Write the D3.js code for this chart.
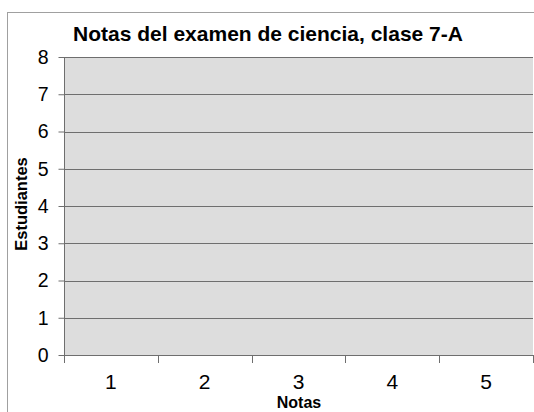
<!DOCTYPE html>
<html><head><meta charset="utf-8">
<script src="https://cdn.jsdelivr.net/npm/d3@7"></script>
<style>body{margin:0;background:#fff}svg{display:block}text{font-family:"Liberation Sans",Arial,sans-serif}</style>
</head><body>
<svg id="c" width="534" height="412"></svg>
<script>
const title = "Notas del examen de ciencia, clase 7-A";
const xTitle = "Notas";
const yTitle = "Estudiantes";
const categories = ["1","2","3","4","5"];
const values = [0,0,0,0,0];
const yTicks = [0,1,2,3,4,5,6,7,8];

const svg = d3.select("#c");
const m = {left:64, top:57, right:533, bottom:355};

svg.append("rect").attr("x",7.5).attr("y",12.5).attr("width",540).attr("height",420)
  .attr("fill","#fff").attr("stroke","#a0a0a0").attr("stroke-width",1);

const x = d3.scaleBand().domain(categories).range([m.left,m.right]);
const y = d3.scaleLinear().domain([0,8]).range([m.bottom,m.top]);

svg.append("rect").attr("x",m.left).attr("y",m.top).attr("width",m.right-m.left).attr("height",m.bottom-m.top).attr("fill","#dddddd");

svg.append("g").selectAll("line").data(yTicks).join("line")
  .attr("x1",m.left).attr("x2",m.right)
  .attr("y1",d=>Math.round(y(d))+0.5).attr("y2",d=>Math.round(y(d))+0.5)
  .attr("stroke","#6e6e6e").attr("stroke-width",1);

svg.append("g").selectAll("rect").data(values).join("rect")
  .attr("x",(d,i)=>x(categories[i])+x.bandwidth()*0.2).attr("width",x.bandwidth()*0.6)
  .attr("y",d=>y(d)).attr("height",d=>y(0)-y(d)).attr("fill","#4a6fb5");

const ya = svg.append("g").attr("transform",`translate(${m.left+0.5},0)`)
  .call(d3.axisLeft(y).tickValues(yTicks).tickFormat(d3.format("d")).tickSize(6).tickPadding(10));
ya.selectAll("line").attr("stroke","#6e6e6e");
ya.select(".domain").attr("stroke","#6e6e6e").attr("d",`M0,${m.top}V${m.bottom}`);
ya.selectAll("text").attr("font-size",19.5).attr("fill","#000").attr("font-family","Liberation Sans, Arial, sans-serif");

const xa = svg.append("g").attr("transform",`translate(0,${m.bottom+0.5})`)
  .call(d3.axisBottom(x).tickSize(0).tickPadding(19));
xa.select(".domain").attr("stroke","#6e6e6e").attr("d",`M${m.left},0H${m.right}`);
xa.selectAll("text").attr("font-size",21).attr("fill","#000").attr("font-family","Liberation Sans, Arial, sans-serif");
const bounds = categories.map(c=>x(c)).concat([m.right]);
svg.append("g").selectAll("line").data(bounds).join("line")
  .attr("x1",d=>Math.round(d)+0.5).attr("x2",d=>Math.round(d)+0.5)
  .attr("y1",m.bottom).attr("y2",m.bottom+8).attr("stroke","#6e6e6e");

svg.append("text").attr("x",268).attr("y",41).attr("text-anchor","middle")
  .attr("font-size",21).attr("font-weight","bold").text(title);
svg.append("text").attr("x",299).attr("y",408).attr("text-anchor","middle")
  .attr("font-size",16).attr("font-weight","bold").text(xTitle);
svg.append("text").attr("transform","translate(27,204) rotate(-90)").attr("text-anchor","middle")
  .attr("font-size",16.5).attr("font-weight","bold").text(yTitle);
</script>
</body></html>
